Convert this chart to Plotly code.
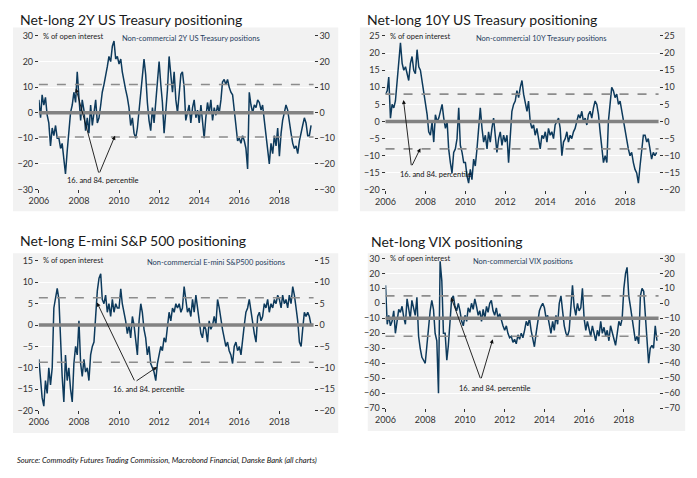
import plotly.graph_objects as go
import pandas as pd

W, H = 697, 478

# ---------------- DATA (monthly, % of open interest) ----------------
dates_2y = pd.date_range("2006-01-01", "2019-08-01", freq="MS")
net_2y = [
    5, -2, 7, 3, 6, -1, -4, -13, -6, -9, -5, -10,
    -10, -14, -12, -17, -24, -15, -6, 0, 3, 8, 4, 16,
    6, -3, 5, 1, -7, -2, -8, 3, -5, 1, 5, -4,
    -2, 3, 8, 11, 14, 18, 22, 20, 26, 28, 21, 22,
    19, 21, 16, 12, 9, 6, 2, -5, -2, -8, -10, -6,
    2, 9, 14, 21, 15, 4, -3, -7, 2, -4, 5, 12,
    20, 11, 4, -8, -1, 9, 22, 14, 8, 16, 5, 0,
    8, 15, 16, 10, -3, 0, 3, -4, 2, 5, -2, 1,
    -4, 3, -5, -10, -2, 4, 0, 5, -3, 2, -1, 3,
    0, 5, 12, 13, 11, 13, 10, 8, 7, 0, -5, -11,
    -10, -12, -9, -11, -14, -22, 8, 3, 0, 3, 2, 5,
    4, 1, 3, -3, -9, -14, -20, -12, -16, -9, -13, -6,
    -17, -8, -3, 0, 3, 1, -4, -8, -12, -14, -13, -16,
    -11, -7, -5, -2, -4, -9, -9, -5,
]

dates_10y = pd.date_range("2006-01-01", "2019-08-01", freq="MS")
net_10y = [
    8, 9, 13, 1, 5, 4, 6, 12, 16, 23, 17, 15,
    16, 14, 12, 17, 19, 15, 14, 21, 16, 15, 12, 8,
    5, 2, -3, -4, 0, -6, 2, 0, 1, 3, 5, 1,
    -2, 0, -8, -12, -15, -9, -8, -5, 4, -7, -9, -12,
    -12, -16, -18, -14, -17, -11, -13, -8, -3, 4, -2, -6,
    -4, -8, -3, -6, -2, 1, -4, -9, -5, -3, -7, -4,
    -6, -4, -12, -3, 3, 5, 6, 9, 7, 10, 12, 8,
    5, 3, 6, 0, -2, -1, -4, -2, -5, -8, -4, -5,
    -3, -6, -2, -4, -3, -5, -1, 0, 1, -2, -10, -6,
    -5, -3, -6, -4, -5, -3, -2, 0, 2, 1, 3, 0,
    1, -1, 2, 3, 1, 4, 6, 5, 2, -3, -8, -12,
    -10, -12, 0, 6, 10, 9, 7, 8, 5, 6, 3, 0,
    -3, -6, -8, -10, -9, -12, -14, -15, -18, -13, -8, -4,
    -4, -6, -5, -8, -11, -9, -10, -9,
]

dates_spx = pd.date_range("2006-01-01", "2019-08-01", freq="MS")
net_spx = [
    -8, -14, -17, -19, -13, -16, -10, -14, -10, 4, 6, 8.6,
    6, -6, -12, -18, -7, -13, -10, -15, -18, -9, -5, -7,
    1, -9, -12, -8, -11, -10, -13, -7, -5, -4, 3, 8,
    11, 12, 6, 5, 7, 3, 5, 2, 6, 3, 5, 4,
    4, 8.5, 5, 3, 1, -2, 0, -3, 2, 0, -4, -7,
    1, 5, 3, -1, -3, -7, -5, -9, -10, -11, -13, -9,
    -7, -5, -6, -3, -4, 0, 3, 1, 4, 3, 5, 4,
    5, 3, 4, 9, 6, 3, 4, 2, 6, 3, 7, 4,
    0, -2, -3, 0, -1, -4, 1, -1, 0, 2, 0, 6,
    4, 1, -1, -3, -5, -4, -6, -7, -9, -5, -4, -6,
    -5, -7, -3, 0, 3, 4, 6, 3, 1, -2, -4, 2,
    3, 1, 2, 5, 4, 6, 3, 5, 4, 6, 5, 7,
    6, 4, 7, 5, 6, 4, 7, 5, 9, 7, 4, 1,
    -4, -5, -1, 3, 2, 3, 2, 0,
]

dates_vix = pd.date_range("2006-01-01", "2019-09-01", freq="MS")
net_vix = [
    12, -14, -8, -15, -12, -5, -20, -10, -4, -6, -2, -9,
    -14, 3, -5, -10, 2, -3, -8, 4, -22, -30, -36, -38,
    -40, -28, -15, -5, 2, -4, -20, -25, -60, 28, 15, -20,
    -20, -38, -28, -10, 3, 5, -2, -5, 0, -5, -12, -15,
    -8, -12, -3, -6, 0, -4, 3, -2, -8, -5, -12, -4,
    -10, -2, -6, 0, 2, -5, -8, -3, -10, -7, -12, -15,
    -18, -15, -20, -23, -22, -26, -24, -27, -21, -24, -20, -23,
    -18, -12, -15, -10, -18, -25, -29, -20, -12, -5, -2, 0,
    -3, -10, -8, -15, -20, -12, -18, -8, -14, 0, 5, -5,
    -15, -20, -22, -18, -5, 12, -2, -8, 0, -5, -3, 10,
    -10, -18, -12, -18, -22, -15, -20, -25, -18, -22, -12, -20,
    -16, -22, -18, -25, -15, -20, -24, -28, -20, -12, -15, -10,
    10, 20, 24, 5, -2, -10, -20, -25, -22, -27, 5, 10,
    8, -10, -28, -40, -30, -28, -30, -15, -25,
]

titles = ["Net-long 2Y US Treasury positioning", "Net-long 10Y US Treasury positioning",
          "Net-long E-mini S&P 500 positioning", "Net-long VIX positioning"]
subtitles = ["Non-commercial 2Y US Treasury positions", "Non-commercial 10Y Treasury positions",
             "Non-commercial E-mini S&P500 positions", "Non-commercial VIX positions"]
baselines = [0, 0, 0, -10]
percentiles = [[11, -9.5], [8, -8], [6.4, -8.7], [5, -22]]
y_ranges = [[-30, 30], [-20, 25], [-20, 15], [-70, 30]]
y_dticks = [10, 5, 5, 10]
year_ticks = [2006, 2008, 2010, 2012, 2014, 2016, 2018]
unit_label = "% of open interest"
pct_label = "16. and 84. percentile"
source = "Source: Commodity Futures Trading Commission, Macrobond Financial, Danske Bank (all charts)"

series = [(dates_2y, net_2y), (dates_10y, net_10y), (dates_spx, net_spx), (dates_vix, net_vix)]

# ---------------- LAYOUT GEOMETRY (pixels) ----------------
plot_px = [  # x0, x1, y0(top), y1(bottom)
    (29.3, 308, 30.7, 187.7),
    (381, 658, 30.7, 188.3),
    (29.3, 308, 261, 414),
    (381, 658, 258.3, 411.7),
]
x_end = ["2019-09-16", "2019-09-05", "2019-09-16", "2019-10-01"]
boxes = [(3, 333, 22, 210), (355, 685, 22, 210), (3, 333, 253, 437), (363, 685, 253, 435)]
title_pos = [(8, 14), (360, 14), (8, 240), (364, 241)]
sub_pos = [(184, 33), (539, 33), (209, 263), (520, 262)]
unit_pos = [(31, 31), (383, 31), (31, 261), (383, 258.5)]

# arrows: tail, head1, head2, text (decimal year, value)
arrows = [
    ((2009.0, -24), (2007.85, 9.5), (2009.8, -9.0), (2009.2, -26.6)),
    ((2007.3, -13.2), (2006.9, 6.3), (2007.75, -7.8), (2008.55, -15.6)),
    ((2010.8, -13.3), (2008.9, 5.3), (2011.9, -9.8), (2011.5, -15.2)),
    ((2010.8, -51), (2009.3, 4), (2011.4, -24), (2011.5, -57)),
]

NAVY = "#0d3a5c"
TXT = "#333333"
FONT = "Lato"


def fx(px):
    return px / W


def fy(py):
    return 1 - py / H


def dy(y):
    yr = int(y)
    ts = pd.Timestamp(f"{yr}-01-01") + pd.Timedelta(days=(y - yr) * 365.25)
    return ts.strftime("%Y-%m-%d")


fig = go.Figure()
layout = dict(
    width=W, height=H, margin=dict(l=0, r=0, t=0, b=0),
    paper_bgcolor="white", plot_bgcolor="#f2f2f2",
    showlegend=False, font=dict(family=FONT, size=9, color=TXT),
)
shapes = []
annotations = []

for i in range(4):
    n = i + 1
    xs = "x" if n == 1 else f"x{n}"
    ys = "y" if n == 1 else f"y{n}"
    yr_name = f"y{n + 4}"
    x0, x1, yt, yb = plot_px[i]

    d, v = series[i]
    fig.add_trace(go.Scatter(x=d, y=v, mode="lines", line=dict(color=NAVY, width=1.5),
                             xaxis=xs, yaxis=ys, hoverinfo="skip"))

    layout["xaxis" if n == 1 else f"xaxis{n}"] = dict(
        domain=[fx(x0), fx(x1)], anchor=ys, type="date",
        range=["2006-01-01", x_end[i]],
        tickvals=[f"{t}-01-01" for t in year_ticks], ticktext=[str(t) for t in year_ticks],
        ticks="outside", ticklen=3, tickcolor=TXT, showgrid=False, zeroline=False,
        showline=False, tickfont=dict(size=9, color=TXT, family=FONT),
    )
    yax = dict(
        domain=[fy(yb), fy(yt)], anchor=xs, range=y_ranges[i], dtick=y_dticks[i], tick0=0,
        ticks="outside", ticklen=3, tickcolor=TXT, gridcolor="white", gridwidth=1,
        zeroline=False, showline=False, tickfont=dict(size=9, color=TXT, family=FONT),
    )
    layout["yaxis" if n == 1 else f"yaxis{n}"] = yax
    yax_r = dict(yax)
    yax_r.update(overlaying=ys, side="right", showgrid=False)
    layout[f"yaxis{n + 4}"] = yax_r
    fig.add_trace(go.Scatter(x=d[:1], y=v[:1], mode="lines", opacity=0, xaxis=xs, yaxis=yr_name,
                             hoverinfo="skip"))

    # background box
    bx0, bx1, by0, by1 = boxes[i]
    shapes.append(dict(type="rect", xref="paper", yref="paper", x0=fx(bx0), x1=fx(bx1),
                       y0=fy(by1), y1=fy(by0), fillcolor="#f2f2f2", line=dict(width=0), layer="below"))
    # percentile lines
    for p in percentiles[i]:
        shapes.append(dict(type="line", xref=f"{xs} domain", yref=ys, x0=0, x1=1, y0=p, y1=p,
                           line=dict(color="#8c8c8c", width=1.6, dash="dash"), layer="above"))
    # baseline
    shapes.append(dict(type="line", xref=f"{xs} domain", yref=ys, x0=0, x1=1,
                       y0=baselines[i], y1=baselines[i],
                       line=dict(color="#828282", width=3.5), layer="above"))

    # titles & labels
    tx, ty = title_pos[i]
    annotations.append(dict(text=titles[i], xref="paper", yref="paper", x=fx(tx), y=fy(ty),
                            xanchor="left", yanchor="middle", showarrow=False,
                            font=dict(size=14, color="#1a1a1a", family=FONT)))
    sx, sy = sub_pos[i]
    annotations.append(dict(text=subtitles[i], xref="paper", yref="paper", x=fx(sx), y=fy(sy),
                            xanchor="center", yanchor="middle", showarrow=False,
                            font=dict(size=7.5, color="#1f3d5e", family=FONT)))
    ux, uy = unit_pos[i]
    annotations.append(dict(text=unit_label, xref="paper", yref="paper", x=fx(ux), y=fy(uy),
                            xanchor="left", yanchor="middle", showarrow=False,
                            font=dict(size=7.5, color="#222222", family=FONT)))

    tail, h1, h2, tp = arrows[i]
    for h in (h1, h2):
        annotations.append(dict(text="", x=dy(h[0]), y=h[1], xref=xs, yref=ys,
                                ax=dy(tail[0]), ay=tail[1], axref=xs, ayref=ys,
                                showarrow=True, arrowhead=2, arrowsize=0.9, arrowwidth=0.9,
                                arrowcolor="#111111", standoff=0, startstandoff=0))
    annotations.append(dict(text=pct_label, x=dy(tp[0]), y=tp[1], xref=xs, yref=ys,
                            showarrow=False, xanchor="center", yanchor="middle",
                            font=dict(size=7.5, color="#111111", family=FONT)))

annotations.append(dict(text=f"<i>{source}</i>", xref="paper", yref="paper", x=fx(5), y=fy(465),
                        xanchor="left", yanchor="middle", showarrow=False,
                        font=dict(size=7.6, color="#111111", family=FONT)))

layout["shapes"] = shapes
layout["annotations"] = annotations
fig.update_layout(**layout)
fig.write_html("out.html")
